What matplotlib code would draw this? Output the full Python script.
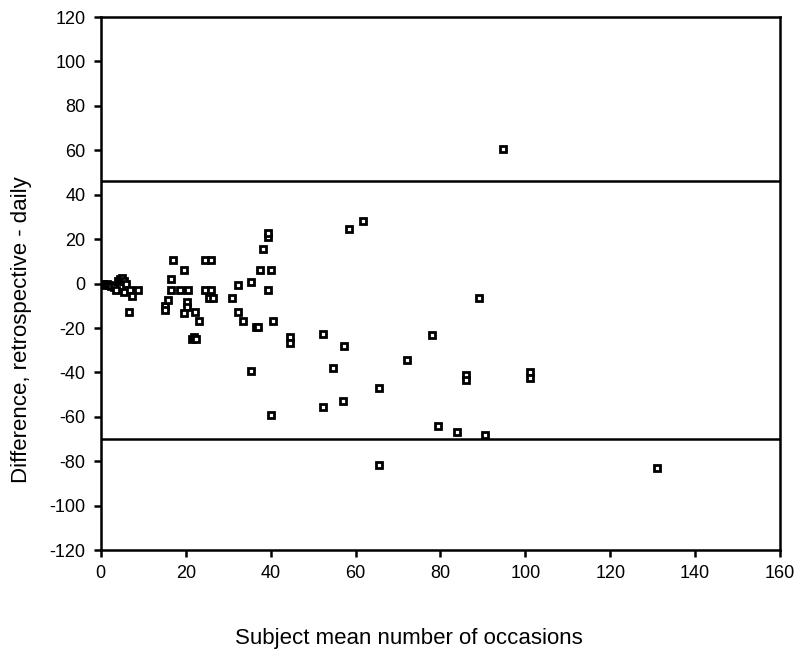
import matplotlib
matplotlib.use("Agg")
import matplotlib.pyplot as plt

plt.rcParams['font.family'] = ['Liberation Sans', 'DejaVu Sans']
plt.rcParams['axes.unicode_minus'] = False

# subject mean (x) and difference retrospective - daily (y)
mean_occ = [0.5, 1, 1.5, 2, 2.5, 3, 3.5, 4, 4.5, 5, 5.5, 5.5, 6, 6.8, 7.4, 8.8, 6.6,
            15.2, 15.2, 15.9, 16.6, 16.6, 17.1, 18.6, 19.7, 20.4, 20.4, 20.6, 19.7,
            22.3, 23.1, 21.5, 22, 22.5, 24.5, 26, 24.5, 26, 25.5, 26.5, 31, 32.3,
            32.3, 33.6, 35.5, 35.4, 36.5, 37, 37.5, 38.1, 39.4, 39.4, 39.5, 40.1,
            40.6, 40, 44.6, 44.6, 52.4, 52.4, 54.6, 57.2, 57.1, 58.5, 61.7, 65.6,
            65.6, 72.2, 78.1, 79.4, 84, 86, 86, 89.2, 90.6, 94.8, 101, 101, 131]
diff = [0, -0.5, 0, -0.5, -1, -1.5, -2.7, 1, 2, 2.5, 1, -3.9, 0, -3, -5.7, -3, -12.9,
        -10, -12, -7.5, 2.1, -2.8, 10.8, -2.8, 6, -8.5, -10.5, -2.8, -13.2,
        -12.8, -16.7, -25, -24, -25, 10.8, 10.8, -2.8, -2.8, -6.6, -6.6, -6.6, -0.6,
        -12.8, -16.7, 0.9, -39.3, -19.7, -19.7, 6, 15.8, 21, 22.8, -2.8, 6,
        -16.7, -59.3, -24, -26.7, -22.8, -55.5, -38, -27.9, -53, 24.5, 28.4, -46.8,
        -81.5, -34.2, -23, -64.3, -66.8, -41, -43.5, -6.6, -68.2, 60.5, -40, -42.5, -83.2]

upper_limit = 46
lower_limit = -70

fig = plt.figure(figsize=(8, 6.55), dpi=100)
ax = fig.add_axes([0.126, 0.160, 0.849, 0.814])

ax.plot(mean_occ, diff, linestyle='none', marker='s', markersize=5,
        markerfacecolor='white', markeredgecolor='black', markeredgewidth=2)
ax.axhline(upper_limit, color='black', linewidth=1.8)
ax.axhline(lower_limit, color='black', linewidth=1.8)

ax.set_xlim(0, 160)
ax.set_ylim(-120, 120)
ax.set_xticks(range(0, 161, 20))
ax.set_yticks(range(-120, 121, 20))
for s in ax.spines.values():
    s.set_linewidth(1.8)
ax.tick_params(direction='out', length=5, width=1.8, labelsize=13, pad=6)

ax.set_xlabel('Subject mean number of occasions', fontsize=16)
ax.set_ylabel('Difference, retrospective - daily', fontsize=16)
ax.xaxis.set_label_coords(0.453, -0.146)
ax.yaxis.set_label_coords(-0.102, 0.413)

fig.savefig('out.png', dpi=100)
